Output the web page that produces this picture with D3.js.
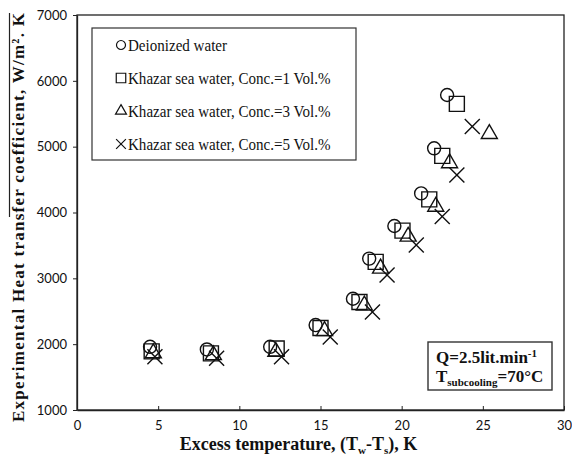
<!DOCTYPE html>
<html>
<head>
<meta charset="utf-8">
<script src="https://cdn.jsdelivr.net/npm/d3@7"></script>
<style>
  html, body { margin: 0; padding: 0; background: #fff; }
  svg { display: block; }
  .tick-label { font-family: Lato, "Open Sans", sans-serif; font-size: 13px; fill: #111; }
  .serif { font-family: "Liberation Serif", "Times New Roman", serif; fill: #111; }
</style>
</head>
<body>
<svg id="chart" width="572" height="464"></svg>
<script>
// Excess temperature (K) and experimental heat transfer coefficient (W/m².K)
const seriesNames = [
  "Deionized water",
  "Khazar sea water, Conc.=1 Vol.%",
  "Khazar sea water, Conc.=3 Vol.%",
  "Khazar sea water, Conc.=5 Vol.%"
];
const deionizedX = [4.5, 8.0, 11.9, 14.7, 17.0, 18.0, 19.55, 21.2, 22.0, 22.8];
const deionizedY = [1960, 1920, 1960, 2290, 2690, 3300, 3795, 4290, 4975, 5785];
const conc1X = [4.6, 8.25, 12.3, 15.0, 17.4, 18.4, 20.05, 21.7, 22.5, 23.4];
const conc1Y = [1890, 1860, 1935, 2245, 2640, 3250, 3725, 4200, 4860, 5650];
const conc3X = [4.7, 8.4, 12.25, 15.25, 17.7, 18.7, 20.4, 22.1, 22.95, 25.4];
const conc3Y = [1865, 1835, 1885, 2200, 2590, 3150, 3635, 4090, 4750, 5195];
const conc5X = [4.8, 8.6, 12.6, 15.6, 18.2, 19.1, 20.9, 22.5, 23.4, 24.35];
const conc5Y = [1810, 1785, 1810, 2110, 2490, 3050, 3505, 3940, 4570, 5305];

const xTicks = [0, 5, 10, 15, 20, 25, 30];
const yTicks = [1000, 2000, 3000, 4000, 5000, 6000, 7000];

const svg = d3.select("#chart");
const plot = { left: 77, right: 564, top: 15, bottom: 410 };

const x = d3.scaleLinear().domain([0, 30]).range([plot.left, plot.right]);
const y = d3.scaleLinear().domain([1000, 7000]).range([plot.bottom, plot.top]);

// plot frame
svg.append("rect")
  .attr("x", plot.left).attr("y", plot.top)
  .attr("width", plot.right - plot.left).attr("height", plot.bottom - plot.top)
  .attr("fill", "none").attr("stroke", "#222").attr("stroke-width", 1.3);

// x axis: ticks pointing into the plot
const xAxis = svg.append("g")
  .attr("transform", `translate(0,${plot.bottom})`)
  .call(d3.axisBottom(x).tickValues(xTicks).tickSizeInner(-4).tickSizeOuter(0).tickPadding(11));
xAxis.select(".domain").attr("stroke", "#222").attr("stroke-width", 1.3);
xAxis.selectAll(".tick line").attr("stroke", "#222");
xAxis.selectAll(".tick text").attr("class", "tick-label").attr("font-family", null).attr("font-size", null);

// y axis: ticks pointing outward
const yAxis = svg.append("g")
  .attr("transform", `translate(${plot.left},0)`)
  .call(d3.axisLeft(y).tickValues(yTicks).tickFormat(d3.format("d")).tickSizeInner(4).tickSizeOuter(0).tickPadding(6));
yAxis.select(".domain").attr("stroke", "#222").attr("stroke-width", 1.3);
yAxis.selectAll(".tick line").attr("stroke", "#222");
yAxis.selectAll(".tick text").attr("class", "tick-label").attr("font-family", null).attr("font-size", null);

// marker shapes
const shapes = [d3.symbolCircle, d3.symbolSquare, d3.symbolTriangle, d3.symbolTimes];
const plotSizes = [133, 225, 111, 149];
const legendSizes = [64, 90, 52, 64];
const series = [
  { xs: deionizedX, ys: deionizedY },
  { xs: conc1X, ys: conc1Y },
  { xs: conc3X, ys: conc3Y },
  { xs: conc5X, ys: conc5Y }
];

const marks = svg.append("g");
series.forEach((s, i) => {
  const pts = s.xs.map((v, j) => [v, s.ys[j]]);
  marks.append("g").selectAll("path")
    .data(pts)
    .join("path")
    .attr("transform", d => `translate(${x(d[0])},${y(d[1])})`)
    .attr("d", d3.symbol().type(shapes[i]).size(plotSizes[i]))
    .attr("fill", "none")
    .attr("stroke", "#111")
    .attr("stroke-width", 1.4);
});

// legend
const legend = svg.append("g");
legend.append("rect")
  .attr("x", 92).attr("y", 28).attr("width", 264).attr("height", 132)
  .attr("fill", "#fff").attr("stroke", "#333").attr("stroke-width", 1.2);
seriesNames.forEach((name, i) => {
  const cy = 45 + i * 33;
  legend.append("path")
    .attr("transform", `translate(121,${cy})`)
    .attr("d", d3.symbol().type(shapes[i]).size(legendSizes[i]))
    .attr("fill", "none").attr("stroke", "#111").attr("stroke-width", 1.2);
  const t = legend.append("text")
    .attr("class", "serif")
    .attr("x", 128).attr("y", cy + 5.5)
    .attr("font-size", 17.5)
    .text(name);
  const w = t.node().getComputedTextLength();
  t.attr("textLength", w * 0.86).attr("lengthAdjust", "spacingAndGlyphs");
});

// operating conditions box
const note = svg.append("g");
note.append("rect")
  .attr("x", 428).attr("y", 342).attr("width", 124).attr("height", 48)
  .attr("fill", "#fff").attr("stroke", "#333").attr("stroke-width", 1.4);
const q = note.append("text").attr("class", "serif")
  .attr("x", 436).attr("y", 363).attr("font-size", 17).attr("font-weight", "bold");
q.append("tspan").text("Q=2.5lit.min");
q.append("tspan").attr("font-size", 11).attr("dy", -6).text("-1");
const tsub = note.append("text").attr("class", "serif")
  .attr("x", 436).attr("y", 382).attr("font-size", 17).attr("font-weight", "bold");
tsub.append("tspan").text("T");
tsub.append("tspan").attr("font-size", 11).attr("dy", 4).text("subcooling");
tsub.append("tspan").attr("dy", -4).text("=70°C");

// x axis title
const xt = svg.append("text").attr("class", "serif")
  .attr("x", 298.5).attr("y", 449.5).attr("text-anchor", "middle")
  .attr("font-size", 18).attr("font-weight", "bold");
xt.append("tspan").text("Excess temperature, (T");
xt.append("tspan").attr("font-size", 11).attr("dy", 4).text("w");
xt.append("tspan").attr("dy", -4).text("-T");
xt.append("tspan").attr("font-size", 11).attr("dy", 4).text("s");
xt.append("tspan").attr("dy", -4).text("), K");

// y axis title
const yt = svg.append("text").attr("class", "serif")
  .attr("transform", "translate(24,217.5) rotate(-90)")
  .attr("text-anchor", "middle")
  .attr("font-size", 17).attr("font-weight", "bold")
  .attr("textLength", 409).attr("lengthAdjust", "spacing")
  .text("Experimental Heat transfer coefficient, W/m². K");

// overline above the coefficient part of the title
svg.append("line")
  .attr("x1", 9.5).attr("x2", 9.5).attr("y1", 217).attr("y2", 13)
  .attr("stroke", "#222").attr("stroke-width", 1.2);
</script>
</body>
</html>
